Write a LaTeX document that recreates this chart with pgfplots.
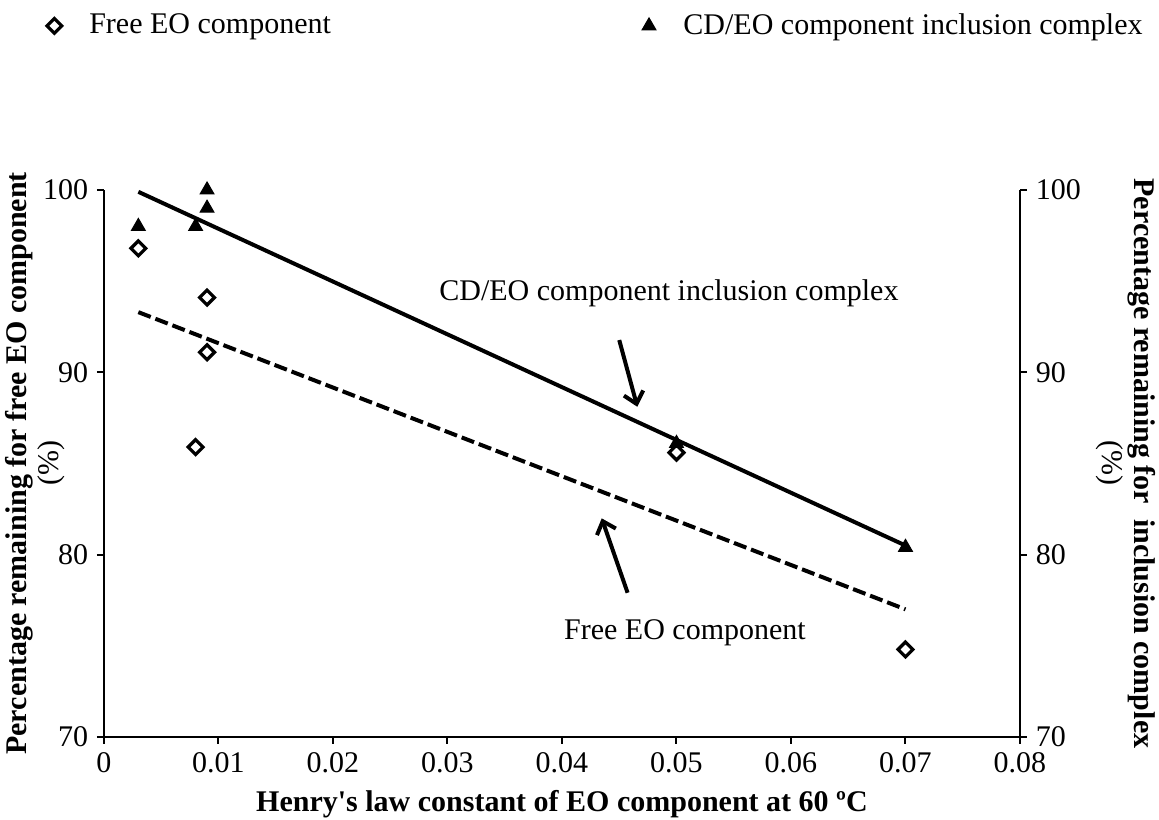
\documentclass[border=0pt]{standalone}
\usepackage{pgfplots}
\pgfplotsset{compat=1.18}
\usepackage{fontspec}
\setmainfont{Liberation Serif}
\usetikzlibrary{arrows.meta}

\pgfplotsset{
  common/.style={
    at={(0,0)}, anchor=south west,
    scale only axis, width=366.4pt, height=218.8pt,
    xmin=0, xmax=0.08, ymin=70, ymax=100,
    ytick={70,80,90,100},
    tick align=outside, major tick length=2.8pt,
    every tick/.style={black, line width=0.8pt},
    axis line style={line width=0.8pt},
    /pgf/number format/assume math mode=true,
    ticklabel style={font=\fontsize{12}{14}\selectfont},
    label style={font=\fontsize{12}{13}\selectfont},
    clip=false,
    legend style={draw=none, fill=none, font=\fontsize{12}{14}\selectfont,
      /tikz/every odd column/.append style={column sep=9pt}},
  },
}

\begin{document}
\begin{tikzpicture}
\path[use as bounding box] (-41.6pt,-33.2pt) rectangle (422pt,294.8pt);

% left axis: free EO component
\begin{axis}[common,
  axis x line*=bottom, axis y line*=left,
  xtick={0,0.01,0.02,0.03,0.04,0.05,0.06,0.07,0.08},
  scaled x ticks=false,
  xticklabel style={/pgf/number format/fixed, /pgf/number format/precision=2},
  xlabel={\textbf{Henry\textquotesingle s law constant of EO component at 60 ºC}},
  ylabel={\textbf{Percentage remaining for free EO component}\\(\%)},
  ylabel style={align=center, at={(axis description cs:-0.075,0.5)}, anchor=center},
  legend style={at={(axis description cs:-0.071,1.30)}, anchor=west},
]
\addplot[black, line width=1.6pt, dash pattern=on 5.3pt off 2pt, forget plot]
  coordinates {(0.003,93.3) (0.07,77.0)};
\addplot[only marks, mark=square, mark size=2.1pt,
  mark options={rotate=45, line width=1.3pt, black, fill=white}]
  coordinates {(0.003,96.8) (0.009,94.1) (0.009,91.1) (0.008,85.9) (0.05,85.6) (0.07,74.8)};
\addlegendentry{Free EO component}

\draw[line width=1.6pt, -{Straight Barb[length=4.5pt,width=8pt]}]
  (axis cs:0.0450,91.77) -- (axis cs:0.04658,88.11);
\draw[line width=1.6pt, -{Straight Barb[length=4.5pt,width=8pt]}]
  (axis cs:0.04573,77.91) -- (axis cs:0.04347,81.99);
\node[font=\fontsize{12}{14}\selectfont] at (axis cs:0.04934,94.35) {CD/EO component inclusion complex};
\node[font=\fontsize{12}{14}\selectfont] at (axis cs:0.05074,75.70) {Free EO component};
\end{axis}

% right axis: inclusion complex
\begin{axis}[common,
  axis x line=none, axis y line*=right,
  ylabel={\textbf{Percentage remaining for\ \ inclusion complex}\\(\%)},
  ylabel style={align=center, rotate=180, at={(axis description cs:1.1157,0.5)}, anchor=center},
  legend style={at={(axis description cs:1.148,1.30)}, anchor=east},
]
\addplot[only marks, mark=triangle*, mark size=3.2pt, black]
  coordinates {(0.003,98.0) (0.008,98.0) (0.009,99.0) (0.009,100.0) (0.05,86.1) (0.07,80.4)};
\addlegendentry{CD/EO component inclusion complex}
\addplot[black, line width=1.6pt, forget plot]
  coordinates {(0.003,99.9) (0.07,80.5)};
\end{axis}
\end{tikzpicture}
\end{document}
